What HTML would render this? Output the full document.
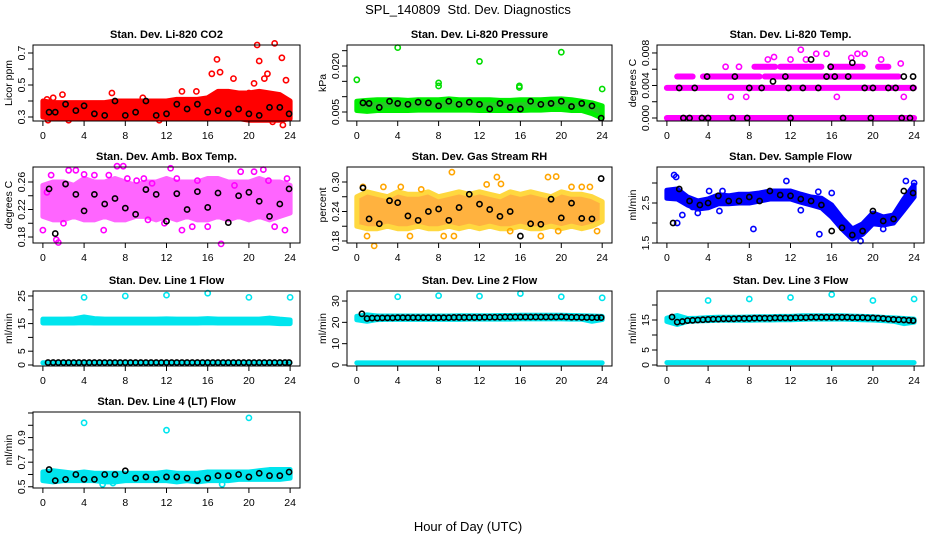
<!DOCTYPE html>
<html><head><meta charset="utf-8"><style>
html,body{margin:0;padding:0;background:#fff;}
svg{display:block;font-family:"Liberation Sans",sans-serif;}
</style></head><body>
<svg id="chart" width="936" height="540" viewBox="0 0 936 540">
<rect x="0" y="0" width="936" height="540" fill="#fff"/>
<text x="468" y="14" text-anchor="middle" font-size="13">SPL_140809&#160; Std. Dev. Diagnostics</text>
<text x="468" y="531" text-anchor="middle" font-size="13">Hour of Day (UTC)</text>
</svg>
<script>
const hours = [0,1,2,3,4,5,6,7,8,9,10,11,12,13,14,15,16,17,18,19,20,21,22,23,24];
const blackHours = [0.6,1.2,2.2,3.2,4.0,5.0,6.0,7.0,8.0,9.0,10.0,11.0,12.0,13.0,14.0,15.0,16.0,17.0,18.0,19.0,20.0,21.0,22.0,23.0,23.9];
const halfHours = [0.5,1,1.5,2,2.5,3,3.5,4,4.5,5,5.5,6,6.5,7,7.5,8,8.5,9,9.5,10,10.5,11,11.5,12,12.5,13,13.5,14,14.5,15,15.5,16,16.5,17,17.5,18,18.5,19,19.5,20,20.5,21,21.5,22,22.5,23,23.5,23.9];
const xTicks = [0,4,8,12,16,20,24];

// CO2
const co2Lo = [0.30,0.29,0.29,0.29,0.29,0.29,0.29,0.29,0.29,0.29,0.29,0.29,0.29,0.29,0.29,0.29,0.29,0.29,0.29,0.29,0.28,0.28,0.28,0.28,0.29];
const co2Hi = [0.40,0.39,0.39,0.39,0.39,0.39,0.39,0.40,0.40,0.40,0.40,0.40,0.40,0.41,0.41,0.41,0.42,0.46,0.46,0.45,0.45,0.46,0.45,0.44,0.40];
const co2OutX = [0.4,1,1.9,6.7,9.7,13.5,14.9,16.4,16.9,17.2,18.5,20,20.5,20.8,21,21.5,21.8,22.5,23.2,23.6,23.3,0.5,2.5,11.3,22.3];
const co2OutY = [0.41,0.42,0.44,0.45,0.42,0.46,0.46,0.57,0.66,0.58,0.54,0.45,0.51,0.75,0.65,0.54,0.57,0.76,0.67,0.53,0.25,0.28,0.28,0.28,0.27];
const co2Black = [0.33,0.33,0.38,0.34,0.37,0.32,0.31,0.40,0.31,0.33,0.40,0.31,0.32,0.38,0.35,0.38,0.33,0.34,0.32,0.35,0.32,0.31,0.36,0.36,0.32];

// Pressure
const presLo = [0.0055,0.0052,0.0055,0.0055,0.0055,0.0055,0.0056,0.0056,0.0056,0.0056,0.0056,0.0056,0.0055,0.0055,0.0055,0.0055,0.0055,0.0056,0.0056,0.0058,0.0058,0.0055,0.0055,0.0045,0.003];
const presHi = [0.0085,0.0088,0.009,0.009,0.009,0.0088,0.009,0.009,0.009,0.0093,0.009,0.009,0.009,0.009,0.0088,0.0088,0.009,0.009,0.009,0.0092,0.0093,0.009,0.0085,0.008,0.007];
const presOutX = [0,4,8,8,12,15.9,15.9,20,24];
const presOutY = [0.0155,0.026,0.0145,0.0135,0.0215,0.0135,0.013,0.0245,0.0125];
const presBlack = [0.008,0.0078,0.0065,0.0085,0.0078,0.0075,0.0082,0.008,0.007,0.0085,0.0075,0.0082,0.0075,0.006,0.0078,0.0065,0.006,0.0085,0.0075,0.0078,0.0085,0.0068,0.0078,0.007,0.003];

// Li-820 temp (quantized levels)
const tempStripStart = [0,0,1,3.5,9.5,8.5,11,16,20.5];
const tempStripEnd = [24,24,2.5,9,22.5,10.5,15,19,21.5];
const tempStripLevel = [0,0.0037,0.0051,0.0051,0.0051,0.0063,0.0063,0.0063,0.0063];
const tempOutX = [6.2,7.7,16.5,23,10.4,13,14.5,15.5,17.9,18.5,19.2,22.7,5.7,7,12,13.5,9.8,20.8];
const tempOutY = [0.0026,0.0026,0.0026,0.0026,0.0075,0.0084,0.0079,0.0079,0.0074,0.0079,0.0079,0.0067,0.0063,0.0063,0.0072,0.0072,0.0072,0.0072];
const tempBlackX = [1.2,2.7,3.9,6.6,8,9.2,10.3,11.5,11.8,13.2,14,14.7,15.9,15.5,16.3,17.6,18,19.2,20,21.5,22.2,23,23.9,23.9,1.6,2.2,3.4,4.0,6.4,7.8,12,17.1,19.8,22.8,23.6];
const tempBlackY = [0.0037,0.0037,0.0051,0.0051,0.0037,0.0037,0.0045,0.0051,0.0037,0.0037,0.0072,0.0037,0.0063,0.0051,0.0051,0.0051,0.0068,0.0037,0.0037,0.0037,0.0037,0.0051,0.0051,0.0037,0,0,0,0,0,0,0,0,0,0,0];

// Amb box temp
const ambLo = [0.21,0.205,0.205,0.21,0.205,0.205,0.21,0.205,0.205,0.21,0.21,0.205,0.21,0.205,0.21,0.205,0.205,0.21,0.205,0.21,0.205,0.21,0.205,0.21,0.215];
const ambHi = [0.255,0.26,0.26,0.255,0.265,0.26,0.26,0.265,0.26,0.255,0.26,0.26,0.265,0.26,0.26,0.26,0.265,0.265,0.26,0.26,0.26,0.265,0.26,0.26,0.255];
const ambOutX = [0,0.8,1.3,1.5,2.5,3.2,4,5,5.9,7.2,7.8,8.2,9.1,10.2,10.6,11.8,12.4,13.5,14.5,16,17.3,19.2,20.5,21.4,22.5,23.5,23.7,0.4,2,6.4,9.8,15,18.6,21.9,13];
const ambOutY = [0.19,0.27,0.176,0.172,0.277,0.277,0.271,0.27,0.19,0.283,0.283,0.265,0.262,0.205,0.258,0.2,0.28,0.19,0.195,0.195,0.17,0.275,0.275,0.278,0.195,0.19,0.265,0.245,0.2,0.27,0.265,0.262,0.255,0.262,0.265];
const ambBlack = [0.25,0.185,0.257,0.242,0.218,0.242,0.228,0.236,0.222,0.213,0.249,0.242,0.203,0.243,0.22,0.246,0.223,0.244,0.201,0.24,0.245,0.232,0.21,0.228,0.25];

// Gas stream RH
const rhLo = [0.21,0.205,0.205,0.21,0.205,0.205,0.21,0.205,0.205,0.21,0.205,0.21,0.205,0.21,0.205,0.205,0.21,0.205,0.205,0.21,0.205,0.21,0.205,0.21,0.22];
const rhHi = [0.27,0.28,0.275,0.27,0.28,0.275,0.275,0.28,0.27,0.275,0.28,0.275,0.28,0.275,0.27,0.28,0.275,0.28,0.275,0.27,0.28,0.275,0.275,0.27,0.26];
const rhOutX = [0.6,1,1.7,2.6,4.3,5.2,6.3,8.5,9.3,9.5,12.7,13.7,14.1,15,18,18.7,19.5,19.7,21,22,22.8,23.5];
const rhOutY = [0.29,0.19,0.17,0.29,0.29,0.19,0.285,0.19,0.32,0.19,0.295,0.31,0.296,0.2,0.19,0.31,0.311,0.2,0.29,0.29,0.29,0.2];
const rhBlack = [0.288,0.225,0.215,0.262,0.258,0.231,0.222,0.24,0.245,0.222,0.248,0.275,0.255,0.244,0.23,0.24,0.19,0.215,0.214,0.265,0.227,0.257,0.226,0.225,0.307];

// Sample flow
const flowLo = [2.62,2.6,2.45,2.35,2.38,2.48,2.48,2.5,2.5,2.55,2.6,2.6,2.6,2.52,2.45,2.38,2.15,1.85,1.6,1.72,1.98,1.95,2.0,2.32,2.65];
const flowHi = [2.82,2.85,2.65,2.55,2.6,2.7,2.68,2.72,2.72,2.75,2.8,2.8,2.8,2.72,2.65,2.62,2.45,2.12,1.85,1.98,2.25,2.15,2.2,2.6,2.95];
const flowOutX = [0.7,0.9,1.0,1.5,2.5,3,4.1,5.1,5.4,8.4,11.6,13,14.7,14.8,16,17,18.8,19,21,23.2,24];
const flowOutY = [3.2,3.15,2.0,2.2,2.4,2.25,2.8,2.3,2.8,1.85,3.05,2.32,2.78,1.72,2.75,1.9,1.55,1.95,1.85,3.05,3.0];
const flowBlack = [2.0,2.85,2.55,2.45,2.5,2.68,2.55,2.55,2.65,2.55,2.8,2.7,2.68,2.6,2.55,2.45,1.8,1.88,1.7,1.8,2.3,2.05,2.1,2.8,2.75];

// Line 1 flow
const l1Lo = [15.2,15.2,15.2,15.2,15.3,15.2,15.2,15.2,15.2,15.2,15.2,15.2,15.2,15.2,15.2,15.2,15.3,15.2,15.2,15.2,15.2,15.2,15.2,15.0,15.0];
const l1Hi = [16.6,16.6,16.6,16.7,17.4,16.8,16.6,16.6,16.6,16.6,16.6,16.6,16.7,16.6,16.6,16.6,16.8,16.6,16.6,16.6,16.6,16.6,17.0,16.6,16.3];
const l1Base = [0.8,0.8,0.8,0.8,0.8,0.8,0.8,0.8,0.8,0.8,0.8,0.8,0.8,0.8,0.8,0.8,0.8,0.8,0.8,0.8,0.8,0.8,0.8,0.8,0.8];
const l1OutX = [4,8,12,16,20,24];
const l1OutY = [24.5,25,25.3,26,24.5,24.5];
const l1Black = [0.9,0.9,0.9,0.9,0.9,0.9,0.9,0.9,0.9,0.9,0.9,0.9,0.9,0.9,0.9,0.9,0.9,0.9,0.9,0.9,0.9,0.9,0.9,0.9,0.9,0.9,0.9,0.9,0.9,0.9,0.9,0.9,0.9,0.9,0.9,0.9,0.9,0.9,0.9,0.9,0.9,0.9,0.9,0.9,0.9,0.9,0.9,0.9];

// Line 2 flow
const l2Lo = [21.2,20.5,21.3,21.4,21.4,21.4,21.4,21.4,21.4,21.4,21.4,21.5,21.5,21.5,21.5,21.5,21.6,21.6,21.6,21.6,21.6,21.5,21.5,20.5,21.3];
const l2Hi = [22.8,23.5,23.0,23.0,23.0,23.0,23.0,23.0,23.0,23.0,23.1,23.1,23.1,23.1,23.2,23.2,23.3,23.3,23.3,23.3,23.3,23.2,23.1,23.0,22.8];
const l2Base = [1.0,1.0,1.0,1.0,1.0,1.0,1.0,1.0,1.0,1.0,1.0,1.0,1.0,1.0,1.0,1.0,1.0,1.0,1.0,1.0,1.0,1.0,1.0,1.0,1.0];
const l2OutX = [4,8,12,16,20,24];
const l2OutY = [32,32.5,32.3,33.5,32,31.5];
const l2Black = [24,21.8,22,22,22.1,22.1,22.1,22.2,22.2,22.2,22.2,22.2,22.2,22.2,22.2,22.2,22.2,22.2,22.3,22.3,22.3,22.3,22.3,22.3,22.4,22.4,22.4,22.4,22.5,22.5,22.5,22.5,22.5,22.5,22.5,22.5,22.5,22.5,22.5,22.6,22.5,22.4,22.4,22.3,22.3,22.2,22.2,22.2];

// Line 3 flow
const l3Lo = [14.5,13.5,14.5,14.7,14.8,14.9,14.9,14.9,14.9,15.0,15.0,15.1,15.1,15.2,15.3,15.3,15.3,15.3,15.2,15.1,15.0,14.8,14.6,13.8,14.3];
const l3Hi = [15.6,16.5,15.5,15.6,15.8,15.9,15.9,15.9,16.0,16.1,16.1,16.2,16.2,16.4,16.4,16.4,16.4,16.4,16.3,16.2,16.1,15.9,15.7,15.5,15.3];
const l3Base = [0.8,0.8,0.8,0.8,0.8,0.8,0.8,0.8,0.8,0.8,0.8,0.8,0.8,0.8,0.8,0.8,0.8,0.8,0.8,0.8,0.8,0.8,0.8,0.8,0.8];
const l3OutX = [4,8,12,16,20,24];
const l3OutY = [21.5,22,22.5,23.5,21.5,22];
const l3Black = [16,14.3,14.5,14.8,14.9,15,15.1,15.2,15.3,15.3,15.4,15.4,15.4,15.5,15.5,15.5,15.6,15.6,15.6,15.6,15.7,15.7,15.7,15.7,15.8,15.8,15.8,15.9,15.9,15.9,15.9,15.9,15.9,15.9,15.9,15.8,15.8,15.8,15.7,15.7,15.6,15.5,15.3,15.2,15.1,15.0,14.9,14.8];

// Line 4 flow
const l4Lo = [0.55,0.54,0.55,0.55,0.55,0.55,0.54,0.54,0.55,0.55,0.55,0.55,0.55,0.54,0.55,0.54,0.55,0.55,0.55,0.56,0.56,0.56,0.56,0.56,0.57];
const l4Hi = [0.62,0.63,0.62,0.61,0.62,0.61,0.61,0.61,0.61,0.61,0.61,0.61,0.62,0.61,0.61,0.61,0.62,0.62,0.62,0.62,0.62,0.63,0.64,0.64,0.64];
const l4OutX = [4,12,20,5.8,6.8,17.4];
const l4OutY = [1.02,0.96,1.06,0.52,0.53,0.52];
const l4Black = [0.64,0.55,0.56,0.6,0.56,0.56,0.6,0.6,0.63,0.57,0.58,0.56,0.58,0.58,0.57,0.55,0.57,0.59,0.59,0.6,0.58,0.61,0.59,0.59,0.62];

const NS = 'http://www.w3.org/2000/svg';
const svg = document.getElementById('chart');
function mk(tag, attrs, parent) {
  const e = document.createElementNS(NS, tag);
  for (const k in attrs) e.setAttribute(k, attrs[k]);
  (parent || svg).appendChild(e);
  return e;
}
const cols = [[33,300],[347,612],[657,924]];
const rows = [[45,121],[167,243],[291,366],[412,488]];

function panel(p) {
  const [L, R] = cols[p.col], [T, B] = rows[p.row];
  const g = mk('g', {});
  
  
  const xs = v => L + (v + 0.96) / 25.92 * (R - L);
  const ys = v => B - (v - p.ymin) / (p.ymax - p.ymin) * (B - T);
  const t = mk('text', {x: (L + R) / 2, y: T - 7, 'text-anchor': 'middle', 'font-size': 11, 'font-weight': 'bold'}, g);
  t.textContent = p.title;
  
  
  const plot = mk('g', {}, g);
  
  
  (p.bands || []).forEach(b => {
    let pts = [];
    b.x.forEach((x, i) => pts.push(xs(x) + ',' + ys(b.lo[i])));
    for (let i = b.x.length - 1; i >= 0; i--) pts.push(xs(b.x[i]) + ',' + ys(b.hi[i]));
    const poly = mk('polygon', {points: pts.join(' '), fill: b.fill || p.color, stroke: b.stroke || p.color, 'stroke-width': 5, 'stroke-linejoin': 'round', opacity: b.op || 1}, plot);
    
    
  });
  (p.lines || []).forEach(ln => {
    ln.x.forEach((x, i) => {
      const l = mk('line', {x1: xs(x), y1: ys(ln.y[i]), y2: ys(ln.y[i]), stroke: p.color, 'stroke-width': 6, 'stroke-linecap': 'round'}, plot);
      l.setAttribute('x2', xs(ln.x2[i]));
      
      
    });
  });
  (p.points || []).forEach(s => {
    s.x.forEach((x, i) => {
      const c = mk('circle', {cx: xs(x), cy: ys(s.y[i]), r: 2.6, fill: 'none', stroke: s.c || p.color, 'stroke-width': 1.6}, plot);
      
      
    });
  });
  const box = mk('rect', {x: L, y: T, width: R - L, height: B - T, fill: 'none', stroke: '#000', 'stroke-width': 1}, g);
  
  
  const xa = mk('g', {}, g);
  
  
  mk('line', {x1: xs(0), x2: xs(24), y1: B, y2: B, stroke: '#000'}, xa);
  xTicks.forEach(v => {
    mk('line', {x1: xs(v), x2: xs(v), y1: B, y2: B + 5, stroke: '#000'}, xa);
    const tl = mk('text', {x: xs(v), y: B + 18, 'text-anchor': 'middle', 'font-size': 10.5}, xa);
    tl.textContent = v;
    
    
  });
  const ya = mk('g', {}, g);
  
  
  mk('line', {x1: L, x2: L, y1: ys(p.ticks[0]), y2: ys(p.ticks[p.ticks.length - 1]), stroke: '#000'}, ya);
  p.ticks.forEach((v, i) => {
    mk('line', {x1: L - 5, x2: L, y1: ys(v), y2: ys(v), stroke: '#000'}, ya);
    if (p.labels[i]) {
      const tl = mk('text', {x: L - 8, y: ys(v), 'text-anchor': 'middle', 'font-size': 10.5, transform: 'rotate(-90 ' + (L - 8) + ' ' + ys(v) + ')'}, ya);
      tl.textContent = p.labels[i];
      
      
    }
  });
  const yl = mk('text', {x: L - 21, y: (T + B) / 2, 'text-anchor': 'middle', 'font-size': 10.5, transform: 'rotate(-90 ' + (L - 21) + ' ' + ((T + B) / 2) + ')'}, ya);
  yl.textContent = p.ylab;
  
  
}

panel({name: 'co2-panel', col: 0, row: 0, title: 'Stan. Dev. Li-820 CO2', ylab: 'Licor ppm', color: '#ff0000', ymin: 0.275, ymax: 0.75,
  ticks: [0.3,0.4,0.5,0.6,0.7], labels: ['0.3','','0.5','','0.7'],
  bands: [{x: hours, lo: co2Lo, hi: co2Hi}],
  points: [{x: co2OutX, y: co2OutY, nm: 'co2-point'}, {x: blackHours, y: co2Black, c: '#000', nm: 'co2-hourly-point'}]});
panel({name: 'pressure-panel', col: 1, row: 0, title: 'Stan. Dev. Li-820 Pressure', ylab: 'kPa', color: '#00dd00', ymin: 0.00207, ymax: 0.02685,
  ticks: [0.005,0.010,0.015,0.020,0.025], labels: ['0.005','','','0.020',''],
  bands: [{x: hours, lo: presLo, hi: presHi, fill: '#22cc22', stroke: '#00ee00'}],
  points: [{x: presOutX, y: presOutY, nm: 'pressure-point'}, {x: blackHours, y: presBlack, c: '#000', nm: 'pressure-hourly-point'}]});
panel({name: 'li820-temp-panel', col: 2, row: 0, title: 'Stan. Dev. Li-820 Temp.', ylab: 'degrees C', color: '#ff00ff', ymin: -0.00037, ymax: 0.00898,
  ticks: [0,0.002,0.004,0.006,0.008], labels: ['0.000','','0.004','','0.008'],
  lines: [{x: tempStripStart, x2: tempStripEnd, y: tempStripLevel}],
  points: [{x: tempOutX, y: tempOutY, nm: 'temp-point'}, {x: tempBlackX, y: tempBlackY, c: '#000', nm: 'temp-hourly-point'}]});
panel({name: 'amb-box-temp-panel', col: 0, row: 1, title: 'Stan. Dev. Amb. Box Temp.', ylab: 'degrees C', color: '#ff00ff', ymin: 0.1713, ymax: 0.2818,
  ticks: [0.18,0.20,0.22,0.24,0.26], labels: ['0.18','','0.22','','0.26'],
  bands: [{x: hours, lo: ambLo, hi: ambHi, op: 0.6}],
  points: [{x: ambOutX, y: ambOutY, nm: 'amb-temp-point'}, {x: blackHours, y: ambBlack, c: '#000', nm: 'amb-temp-hourly-point'}]});
panel({name: 'gas-rh-panel', col: 1, row: 1, title: 'Stan. Dev. Gas Stream RH', ylab: 'percent', color: '#ffa500', ymin: 0.1759, ymax: 0.3305,
  ticks: [0.18,0.21,0.24,0.27,0.30], labels: ['0.18','','0.24','','0.30'],
  bands: [{x: hours, lo: rhLo, hi: rhHi, fill: '#ff9900', stroke: '#ffcc00', op: 0.75}],
  points: [{x: rhOutX, y: rhOutY, c: '#ffa500', nm: 'rh-point'}, {x: blackHours, y: rhBlack, c: '#000', nm: 'rh-hourly-point'}]});
panel({name: 'sample-flow-panel', col: 2, row: 1, title: 'Stan. Dev. Sample Flow', ylab: 'ml/min', color: '#0000ff', ymin: 1.5, ymax: 3.4,
  ticks: [1.5,2.0,2.5,3.0], labels: ['1.5','','2.5',''],
  bands: [{x: hours, lo: flowLo, hi: flowHi}],
  points: [{x: flowOutX, y: flowOutY, nm: 'sample-flow-point'}, {x: blackHours, y: flowBlack, c: '#000', nm: 'sample-flow-hourly-point'}]});
panel({name: 'line1-flow-panel', col: 0, row: 2, title: 'Stan. Dev. Line 1 Flow', ylab: 'ml/min', color: '#00e5ee', ymin: -0.36, ymax: 26.8,
  ticks: [0,5,10,15,20,25], labels: ['0','5','','15','','25'],
  bands: [{x: hours, lo: l1Lo, hi: l1Hi}, {x: hours, lo: l1Base, hi: l1Base}],
  points: [{x: l1OutX, y: l1OutY, nm: 'line1-point'}, {x: halfHours, y: l1Black, c: '#000', nm: 'line1-hourly-point'}]});
panel({name: 'line2-flow-panel', col: 1, row: 2, title: 'Stan. Dev. Line 2 Flow', ylab: 'ml/min', color: '#00e5ee', ymin: -0.47, ymax: 34.7,
  ticks: [0,10,20,30], labels: ['0','10','20','30'],
  bands: [{x: hours, lo: l2Lo, hi: l2Hi}, {x: hours, lo: l2Base, hi: l2Base}],
  points: [{x: l2OutX, y: l2OutY, nm: 'line2-point'}, {x: halfHours, y: l2Black, c: '#000', nm: 'line2-hourly-point'}]});
panel({name: 'line3-flow-panel', col: 2, row: 2, title: 'Stan. Dev. Line 3 Flow', ylab: 'ml/min', color: '#00e5ee', ymin: -0.33, ymax: 24.67,
  ticks: [0,5,10,15,20], labels: ['0','5','','15',''],
  bands: [{x: hours, lo: l3Lo, hi: l3Hi}, {x: hours, lo: l3Base, hi: l3Base}],
  points: [{x: l3OutX, y: l3OutY, nm: 'line3-point'}, {x: halfHours, y: l3Black, c: '#000', nm: 'line3-hourly-point'}]});
panel({name: 'line4-flow-panel', col: 0, row: 3, title: 'Stan. Dev. Line 4 (LT) Flow', ylab: 'ml/min', color: '#00e5ee', ymin: 0.49, ymax: 1.108,
  ticks: [0.5,0.6,0.7,0.8,0.9,1.0,1.1], labels: ['0.5','','0.7','','0.9','',''],
  bands: [{x: hours, lo: l4Lo, hi: l4Hi}],
  points: [{x: l4OutX, y: l4OutY, nm: 'line4-point'}, {x: blackHours, y: l4Black, c: '#000', nm: 'line4-hourly-point'}]});
</script>
</body></html>
